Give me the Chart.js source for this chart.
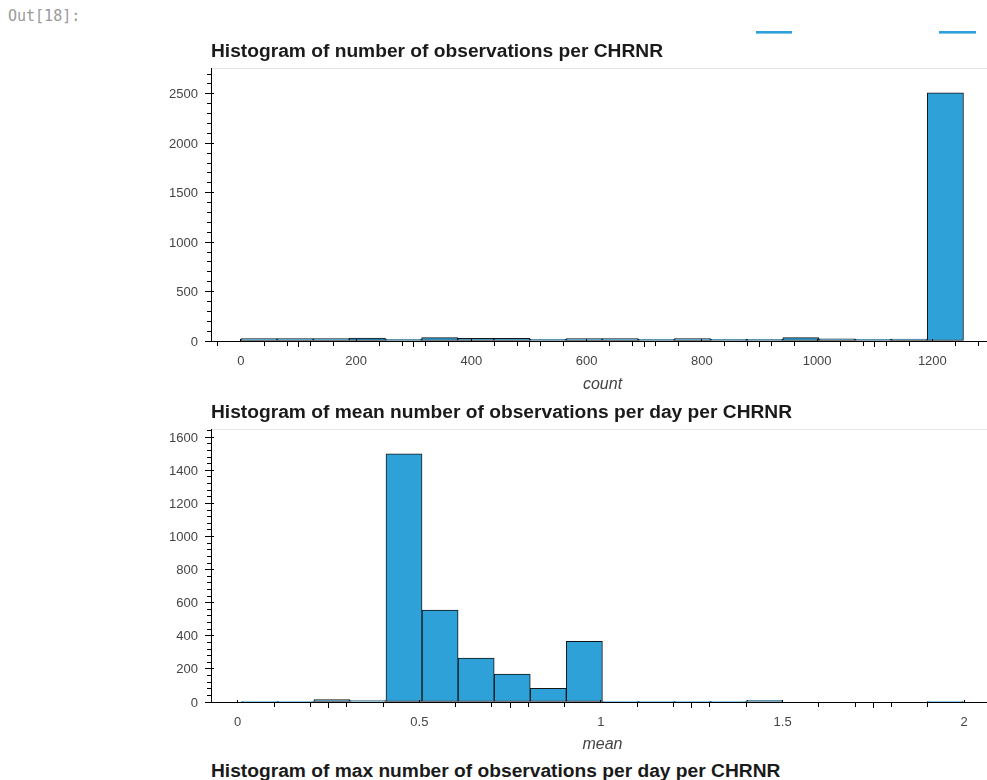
<!DOCTYPE html>
<html><head><meta charset="utf-8">
<script src="https://cdn.jsdelivr.net/npm/chart.js@4.4.1/dist/chart.umd.min.js"></script>
<style>
html,body{margin:0;padding:0;background:#fff;overflow:hidden;width:987px;height:780px;}
#wrap{position:relative;width:987px;height:780px;overflow:hidden;background:#fff;}
#out{position:absolute;left:8px;top:9px;font:15px/15px "DejaVu Sans Mono",monospace;color:#9a9a9a;}
.title{position:absolute;left:211px;font:bold 19.2px/19px "Liberation Sans",Arial,sans-serif;color:#1a1a1a;white-space:nowrap;z-index:2;}
.mark{position:absolute;top:31px;height:2px;background:#2ca0da;border-bottom:1px solid #7cc5e9;}
canvas{position:absolute;left:0;z-index:1;}
</style></head>
<body><div id="wrap">
<div id="out">Out[18]:</div>
<div class="mark" style="left:756px;width:36px"></div>
<div class="mark" style="left:939px;width:37px"></div>
<div class="title" style="top:41px">Histogram of number of observations per CHRNR</div>
<canvas id="c1" width="994" height="360" style="top:40px"></canvas>
<div class="title" style="top:402px">Histogram of mean number of observations per day per CHRNR</div>
<canvas id="c2" width="994" height="360" style="top:400px"></canvas>
<div class="title" style="top:761px">Histogram of max number of observations per day per CHRNR</div>
</div>
<script>
// ---- data ----
const countBinEdges = [0, 62.7, 125.4, 188.1, 250.8, 313.5, 376.2, 438.9, 501.6, 564.3, 627, 689.7, 752.4, 815.1, 877.8, 940.5, 1003.2, 1065.9, 1128.6, 1191.3, 1254];
const countFrequencies = [24, 24, 24, 30, 17, 34, 27, 27, 17, 24, 24, 17, 24, 17, 17, 34, 21, 17, 20, 2510];
const countXTicks = [0, 200, 400, 600, 800, 1000, 1200];
const countYTicks = [0, 500, 1000, 1500, 2000, 2500];

const meanBinEdges = [0.011, 0.1103, 0.2096, 0.3089, 0.4082, 0.5075, 0.6068, 0.7061, 0.8054, 0.9047, 1.004, 1.1033, 1.2026, 1.3019, 1.4012, 1.5005, 1.5998, 1.6991, 1.7984, 1.8977, 1.997];
const meanFrequencies = [1, 4, 15, 8, 1500, 556, 266, 168, 83, 367, 1, 1, 1, 1, 10, 0, 0, 0, 0, 1];
const meanXTicks = [0, 0.5, 1, 1.5, 2];
const meanYTicks = [0, 200, 400, 600, 800, 1000, 1200, 1400, 1600];

const FONT = '"Liberation Sans", Arial, Helvetica, sans-serif';
const BAR_FILL = '#2ea1d9';
const BAR_LINE = '#151515';

function align(p) { return Math.round(p - 0.5) + 0.5; }

const bokehAxes = {
  id: 'bokehAxes',
  beforeDraw(chart) {
    const {ctx, chartArea: a} = chart;
    ctx.save();
    ctx.strokeStyle = '#e5e5e5';
    ctx.lineWidth = 1;
    ctx.strokeRect(a.left + 0.5, a.top + 0.5, a.right - a.left, a.bottom - a.top);
    ctx.restore();
  },
  afterDraw(chart, args, o) {
    const {ctx} = chart;
    const xs = chart.scales.x, ys = chart.scales.y;
    const axY = xs.top, axX = ys.right;
    ctx.save();
    ctx.strokeStyle = '#000';
    ctx.lineWidth = 1;
    ctx.beginPath();
    const ratioX = Math.round(o.xMajor / o.xMinor);
    for (let n = Math.ceil(xs.min / o.xMinor); n * o.xMinor <= xs.max; n++) {
      const px = align(xs.getPixelForValue(n * o.xMinor));
      if (px < xs.left || px > xs.right) continue;
      if (n % ratioX === 0) { ctx.moveTo(px, axY - 2); ctx.lineTo(px, axY + 1); }
      else { ctx.moveTo(px, axY); ctx.lineTo(px, axY + 5); }
    }
    const ratioY = Math.round(o.yMajor / o.yMinor);
    for (let n = Math.ceil(ys.min / o.yMinor); n * o.yMinor <= ys.max; n++) {
      const py = align(ys.getPixelForValue(n * o.yMinor));
      if (py < ys.top || py > ys.bottom) continue;
      if (n % ratioY === 0) { ctx.moveTo(axX, py); ctx.lineTo(axX + 3, py); }
      else { ctx.moveTo(axX - 4, py); ctx.lineTo(axX + 1, py); }
    }
    ctx.stroke();
    ctx.restore();
  }
};

function centers(edges) {
  return edges.slice(0, -1).map((e, i) => (e + edges[i + 1]) / 2);
}

function makeHist(id, edges, freqs, xTicks, yTicks, xr, yr, xLabel, topPad, axisH, minors) {
  const cs = centers(edges);
  const data = cs.map((c, i) => ({x: c, y: freqs[i]}));
  const gridOpts = {display: true, drawOnChartArea: false, drawTicks: true, tickLength: 6, tickColor: '#000', tickWidth: 1, color: '#000'};
  new Chart(document.getElementById(id), {
    type: 'bar',
    data: {datasets: [{
      data,
      backgroundColor: BAR_FILL,
      borderColor: BAR_LINE,
      borderWidth: 1,
      borderSkipped: false,
      barPercentage: 1,
      categoryPercentage: 1
    }]},
    options: {
      responsive: false,
      animation: false,
      devicePixelRatio: 1,
      layout: {padding: {top: topPad, left: 0, right: 0, bottom: 0}},
      plugins: {legend: {display: false}, tooltip: {enabled: false}, title: {display: false}, bokehAxes: minors},
      scales: {
        x: {
          type: 'linear', min: xr[0], max: xr[1], offset: false, bounds: 'data',
          afterBuildTicks: s => { s.ticks = xTicks.map(v => ({value: v})); },
          afterFit: s => { s.height = axisH; },
          grid: gridOpts,
          border: {display: true, color: '#000', width: 1},
          ticks: {font: {family: FONT, size: 13}, color: '#444', padding: 7, maxRotation: 0, autoSkip: false, callback: v => String(v)},
          title: {display: true, text: xLabel, font: {family: FONT, size: 16, style: 'italic'}, color: '#444', padding: {top: 0, bottom: 5.5}}
        },
        y: {
          type: 'linear', min: yr[0], max: yr[1], bounds: 'data',
          afterBuildTicks: s => { s.ticks = yTicks.map(v => ({value: v})); },
          afterFit: s => { s.width = 211; },
          grid: gridOpts,
          border: {display: true, color: '#000', width: 1},
          ticks: {font: {family: FONT, size: 13}, color: '#444', padding: 7, labelOffset: 1, autoSkip: false, callback: v => String(v)}
        }
      }
    },
    plugins: [bokehAxes]
  });
}

makeHist('c1', countBinEdges, countFrequencies, countXTicks, countYTicks, [-52, 1307], [0, 2761], 'count', 28, 59,
  {xMinor: 40, xMajor: 200, yMinor: 100, yMajor: 500});
makeHist('c2', meanBinEdges, meanFrequencies, meanXTicks, meanYTicks, [-0.0735, 2.082], [0, 1650], 'mean', 29, 58,
  {xMinor: 0.1, xMajor: 0.5, yMinor: 40, yMajor: 200});
</script>
</body></html>
